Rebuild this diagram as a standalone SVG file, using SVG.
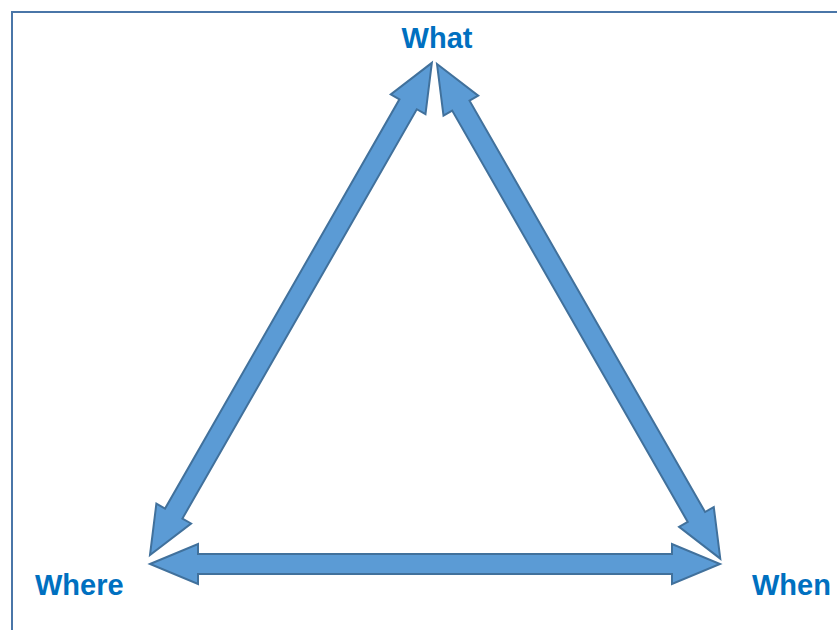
<svg xmlns="http://www.w3.org/2000/svg" width="837" height="630" viewBox="0 0 837 630">
<style>
.arr{fill:#5b9bd5;stroke:#41719c;stroke-width:2;stroke-linejoin:miter}
.lbl{font-family:"Liberation Sans",Arial,sans-serif;font-weight:bold;font-size:29px;fill:#0070c0}
</style>
<rect x="12" y="12" width="840" height="640" fill="#ffffff" stroke="#4a76a8" stroke-width="2"/>
<g id="connectors">
<polygon class="arr" transform="translate(150,555) rotate(-60.2) scale(0.995,1)" points="0,0 48,-20 48,-10 522,-10 522,-20 570,0 522,20 522,10 48,10 48,20"/>
<polygon class="arr" transform="translate(437,64) rotate(60.2)" points="0,0 48,-20 48,-10 522,-10 522,-20 570,0 522,20 522,10 48,10 48,20"/>
<polygon class="arr" transform="translate(150,564)" points="0,0 48,-20 48,-10 522,-10 522,-20 570,0 522,20 522,10 48,10 48,20"/>
</g>
<g id="what"><text class="lbl" x="437" y="48" text-anchor="middle">What</text></g>
<g id="where"><text class="lbl" x="35" y="595">Where</text></g>
<g id="when"><text class="lbl" x="752" y="595">When</text></g>
</svg>
